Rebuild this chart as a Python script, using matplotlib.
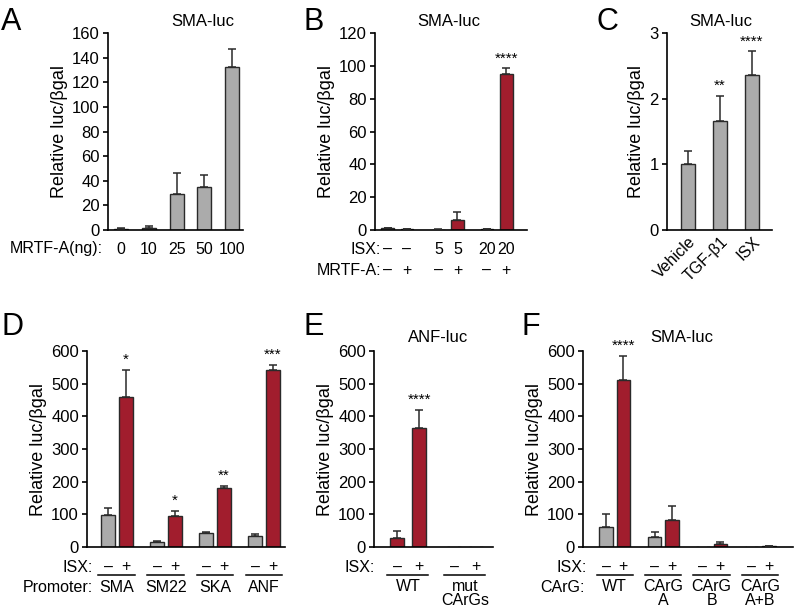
import numpy as np
import matplotlib as mpl; mpl.use('Agg')
import matplotlib.pyplot as plt
from matplotlib.transforms import blended_transform_factory, offset_copy

mpl.rcParams.update({
    'font.family': 'sans-serif', 'font.sans-serif': ['Liberation Sans', 'DejaVu Sans'],
    'axes.spines.top': False, 'axes.spines.right': False,
    'axes.linewidth': 1.2, 'font.size': 11.5,
    'ytick.major.size': 3.8, 'ytick.major.width': 1.2, 'ytick.major.pad': 2,
    'ytick.labelsize': 12,
})
GRY = '#ababab'; RED = '#a11d2d'; EDGE = '#2a2a2a'
W, H = 797, 610
FS = 11.5

# ---- data -------------------------------------------------------------
a_labels = ['0', '10', '25', '50', '100']
a_mean = [1.0, 1.5, 29, 35, 132]
a_err = [0.8, 2.0, 17, 10, 15]

b_isx = ['\u2013', '\u2013', '5', '5', '20', '20']
b_mrtf = ['\u2013', '+', '\u2013', '+', '\u2013', '+']
b_mean = [1.0, 0.6, 0.3, 6.0, 0.4, 95]
b_err = [0.4, 0.3, 0.2, 5.0, 0.2, 3.5]
b_red = [False, False, False, True, False, True]

c_labels = ['Vehicle', 'TGF-\u03b21', 'ISX']
c_mean = [1.0, 1.66, 2.36]
c_err = [0.2, 0.38, 0.36]
c_stars = ['', '**', '****']

d_groups = ['SMA', 'SM22', 'SKA', 'ANF']
d_minus = [98, 15, 42, 35]
d_minus_err = [22, 3, 5, 6]
d_plus = [458, 95, 180, 542]
d_plus_err = [85, 15, 8, 15]
d_stars = ['*', '*', '**', '***']

e_groups = ['WT', 'mut\nCArGs']
e_minus = [28, 1]
e_minus_err = [22, 0]
e_plus = [365, 1]
e_plus_err = [55, 0]
e_stars = ['****', '']

f_groups = ['WT', 'CArG\nA', 'CArG\nB', 'CArG\nA+B']
f_minus = [60, 30, 1, 1]
f_minus_err = [42, 17, 0, 0]
f_plus = [512, 82, 10, 2]
f_plus_err = [72, 45, 6, 1]
f_stars = ['****', '', '', '']

fig = plt.figure(figsize=(W / 100, H / 100), dpi=100)


def axes_px(x0, x1, ytop, ybot):
    return fig.add_axes([x0 / W, 1 - ybot / H, (x1 - x0) / W, (ybot - ytop) / H])


def style(ax, ylim, step):
    ax.set_ylim(*ylim)
    ax.set_yticks(np.arange(ylim[0], ylim[1] + step / 2, step))
    ax.tick_params(axis='x', length=0)
    ax.set_ylabel('Relative luc/\u03b2gal', fontsize=13, labelpad=3)


def bars(ax, x, m, e, colors, width):
    ax.bar(x, m, width, color=colors, edgecolor=EDGE, linewidth=1.0, zorder=2)
    ax.errorbar(x, m, yerr=[np.zeros(len(e)), e], fmt='none', ecolor=EDGE,
                elinewidth=1.1, capsize=3, capthick=1.1, zorder=3)


def row(ax, x, ypx, s, **kw):
    tr = blended_transform_factory(ax.transData, fig.transFigure)
    ax.text(x, 1 - ypx / H, s, transform=tr, ha='center', va='center',
            fontsize=FS, clip_on=False, **kw)


def rowlabel(ax, xfrac, ypx, s):
    tr = blended_transform_factory(ax.transAxes, fig.transFigure)
    ax.text(xfrac, 1 - ypx / H, s, transform=tr, ha='right', va='center',
            fontsize=FS, clip_on=False)


def uline(ax, x0, x1, ypx):
    tr = blended_transform_factory(ax.transData, fig.transFigure)
    ax.plot([x0, x1], [1 - ypx / H] * 2, color='k', lw=1.1, transform=tr, clip_on=False)


def stars(ax, x, top, s):
    if s:
        tr = offset_copy(ax.transData, fig=fig, x=0, y=3, units='dots')
        ax.text(x, top, s, transform=tr, ha='center', va='bottom', fontsize=11)


def letter(xpx, ypx, s):
    fig.text(xpx / W, 1 - ypx / H, s, fontsize=22, ha='left', va='top')


def title(xpx, ypx, s):
    fig.text(xpx / W, 1 - ypx / H, s, fontsize=12, ha='center', va='center')


# ---- A ----------------------------------------------------------------
axA = axes_px(108, 243, 33, 230)
xa = np.arange(len(a_mean))
bars(axA, xa, a_mean, a_err, GRY, 0.5)
axA.set_xlim(-0.48, 4.4)
style(axA, (0, 160), 20)
axA.set_xticks([])
for x, s in zip(xa, a_labels):
    row(axA, x, 249, s)
rowlabel(axA, -0.04, 249, 'MRTF-A(ng):')
title(203, 22, 'SMA-luc')
letter(1, 7, 'A')

# ---- B ----------------------------------------------------------------
axB = axes_px(375, 527, 33, 230)
xb = np.array([0, 1, 2.65, 3.65, 5.2, 6.2])
bars(axB, xb, b_mean, b_err, [RED if r else GRY for r in b_red], 0.68)
axB.set_xlim(-0.68, 7.3)
style(axB, (0, 120), 20)
axB.set_xticks([])
stars(axB, xb[-1], b_mean[-1] + b_err[-1], '****')
for x, s1, s2 in zip(xb, b_isx, b_mrtf):
    row(axB, x, 249, s1)
    row(axB, x, 270, s2)
rowlabel(axB, 0.04, 249, 'ISX:')
rowlabel(axB, 0.04, 270, 'MRTF-A:')
title(449, 21, 'SMA-luc')
letter(303, 7, 'B')

# ---- C ----------------------------------------------------------------
axC = axes_px(667, 772, 33, 230)
xc = np.arange(len(c_mean))
bars(axC, xc, c_mean, c_err, GRY, 0.44)
axC.set_xlim(-0.66, 2.63)
style(axC, (0, 3), 1)
axC.set_xticks(xc)
axC.set_xticklabels(c_labels, rotation=45, ha='right', va='top',
                    rotation_mode='anchor', fontsize=FS)
axC.tick_params(axis='x', pad=3)
for x, m, e, s in zip(xc, c_mean, c_err, c_stars):
    stars(axC, x, m + e, s)
title(721, 21, 'SMA-luc')
letter(597, 7, 'C')

# ---- D ----------------------------------------------------------------
axD = axes_px(87, 285, 351, 547)
gD = np.arange(len(d_groups)) * 2.8
bars(axD, gD, d_minus, d_minus_err, GRY, 0.8)
bars(axD, gD + 1, d_plus, d_plus_err, RED, 0.8)
axD.set_xlim(-1.2, 10.1)
style(axD, (0, 600), 100)
axD.set_xticks([])
for g, m, e, s, name in zip(gD, d_plus, d_plus_err, d_stars, d_groups):
    stars(axD, g + 1, m + e, s)
    row(axD, g, 567, '\u2013')
    row(axD, g + 1, 567, '+')
    uline(axD, g - 0.55, g + 1.55, 575)
    row(axD, g + 0.5, 588, name)
rowlabel(axD, 0.03, 567, 'ISX:')
rowlabel(axD, 0.03, 588, 'Promoter:')
letter(1, 312, 'D')

# ---- E ----------------------------------------------------------------
axE = axes_px(374, 493, 351, 547)
gE = np.array([0, 2.6])
bars(axE, gE, e_minus, e_minus_err, RED, 0.64)
bars(axE, gE + 1, e_plus, e_plus_err, RED, 0.64)
axE.set_xlim(-1.05, 4.36)
style(axE, (0, 600), 100)
axE.set_xticks([])
for g, m, e, s, name in zip(gE, e_plus, e_plus_err, e_stars, e_groups):
    stars(axE, g + 1, m + e, s)
    row(axE, g, 567, '\u2013')
    row(axE, g + 1, 567, '+')
    uline(axE, g - 0.45, g + 1.4, 575)
    tr = blended_transform_factory(axE.transData, fig.transFigure)
    axE.text(g + 0.5, 1 - 579 / H, name, transform=tr, ha='center', va='top',
             fontsize=FS, linespacing=0.95, clip_on=False)
rowlabel(axE, 0.01, 567, 'ISX:')
title(438, 338, 'ANF-luc')
letter(304, 312, 'E')

# ---- F ----------------------------------------------------------------
axF = axes_px(583, 793, 351, 547)
gF = np.arange(len(f_groups)) * 2.8
bars(axF, gF, f_minus, f_minus_err, GRY, 0.78)
bars(axF, gF + 1, f_plus, f_plus_err, RED, 0.78)
axF.set_xlim(-1.33, 10.8)
style(axF, (0, 600), 100)
axF.set_xticks([])
for g, m, e, s, name in zip(gF, f_plus, f_plus_err, f_stars, f_groups):
    stars(axF, g + 1, m + e, s)
    row(axF, g, 567, '\u2013')
    row(axF, g + 1, 567, '+')
    uline(axF, g - 0.55, g + 1.55, 575)
    tr = blended_transform_factory(axF.transData, fig.transFigure)
    axF.text(g + 0.5, 1 - 579 / H, name, transform=tr, ha='center', va='top',
             fontsize=FS, linespacing=0.95, clip_on=False)
rowlabel(axF, 0.02, 567, 'ISX:')
rowlabel(axF, 0.01, 588, 'CArG:')
title(682, 338, 'SMA-luc')
letter(521, 312, 'F')

fig.savefig('out.png', dpi=100)
